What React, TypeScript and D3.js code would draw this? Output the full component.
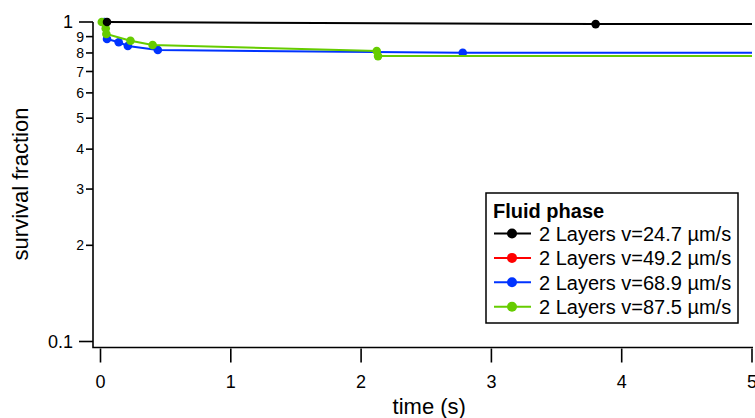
import React from "react";
import * as d3 from "d3";

const xTicks = [0, 1, 2, 3, 4, 5];
const yMajorTicks = [0.1, 1];
const yMinorTicks = [0.2, 0.3, 0.4, 0.5, 0.6, 0.7, 0.8, 0.9];
const yMinorLabels = ["2", "3", "4", "5", "6", "7", "8", "9"];
const yMajorLabels = ["0.1", "1"];

const seriesNames = [
  "2 Layers v=24.7 µm/s",
  "2 Layers v=49.2 µm/s",
  "2 Layers v=68.9 µm/s",
  "2 Layers v=87.5 µm/s",
];
const seriesColors = ["#000000", "#ff0000", "#0033ff", "#66cc00"];

// measured points (markers)
const blackT = [0.05, 3.8];
const blackV = [1.0, 0.985];
const redT: number[] = [];
const redV: number[] = [];
const blueT = [0.03, 0.05, 0.14, 0.21, 0.44, 2.78];
const blueV = [1.0, 0.885, 0.864, 0.841, 0.817, 0.801];
const greenT = [0.01, 0.04, 0.045, 0.23, 0.4, 2.12, 2.13];
const greenV = [1.0, 0.955, 0.917, 0.874, 0.847, 0.811, 0.782];

const W = 755;
const H = 418;
const FONT = "'Liberation Sans', Arial, sans-serif";

export default function App() {
  const x = d3.scaleLinear().domain([0, 5]).range([100.5, 752]);
  const y = d3.scaleLog().domain([0.1, 1]).range([341.5, 22]);
  const axisX = 93;
  const axisY = 347.5;

  const series = [
    { t: redT, v: redV, c: seriesColors[1] },
    { t: blueT, v: blueV, c: seriesColors[2] },
    { t: greenT, v: greenV, c: seriesColors[3] },
    { t: blackT, v: blackV, c: seriesColors[0] },
  ];

  const line = d3
    .line<[number, number]>()
    .x((d) => x(d[0]))
    .y((d) => y(d[1]));

  return (
    <svg width={W} height={H} style={{ position: "absolute", left: 0, top: 0 }} fontFamily={FONT}>
      <rect x={0} y={0} width={W} height={H} fill="#fff" />
      {/* data */}
      {series.map((s, i) => {
        if (s.t.length === 0) return null;
        const pts: [number, number][] = s.t.map((t, j) => [t, s.v[j]]);
        // hold last value to the end of the axis
        pts.push([5, s.v[s.v.length - 1]]);
        return (
          <g key={i}>
            <path d={line(pts) || ""} fill="none" stroke={s.c} strokeWidth={2} />
            {s.t.map((t, j) => (
              <circle key={j} cx={x(t)} cy={y(s.v[j])} r={4.3} fill={s.c} />
            ))}
          </g>
        );
      })}
      {/* axes */}
      <path
        d={`M${axisX},${y(1)} L${axisX},${axisY} L${x(5) + 1},${axisY}`}
        fill="none"
        stroke="#000"
        strokeWidth={1.6}
      />
      {yMajorTicks.map((v, i) => (
        <g key={"ym" + i}>
          <line x1={axisX - 14} x2={axisX} y1={y(v)} y2={y(v)} stroke="#000" strokeWidth={1.6} />
          <text x={axisX - 20} y={y(v)} dy="0.36em" textAnchor="end" fontSize={18}>
            {yMajorLabels[i]}
          </text>
        </g>
      ))}
      {yMinorTicks.map((v, i) => (
        <g key={"yn" + i}>
          <line x1={axisX - 7} x2={axisX} y1={y(v)} y2={y(v)} stroke="#000" strokeWidth={1.6} />
          <text x={axisX - 9} y={y(v)} dy="0.36em" textAnchor="end" fontSize={14}>
            {yMinorLabels[i]}
          </text>
        </g>
      ))}
      {xTicks.map((v) => (
        <g key={"x" + v}>
          <line x1={x(v)} x2={x(v)} y1={axisY + 1} y2={axisY + 15} stroke="#000" strokeWidth={1.6} />
          <text x={x(v)} y={382} dy="0.36em" textAnchor="middle" fontSize={18}>
            {v}
          </text>
        </g>
      ))}
      <text x={(x(0) + x(5)) / 2 + 3} y={406} dy="0.36em" textAnchor="middle" fontSize={22}>
        time (s)
      </text>
      <text
        transform={`translate(20,184) rotate(-90)`}
        textAnchor="middle"
        dy="0.36em"
        fontSize={22}
      >
        survival fraction
      </text>
      {/* legend */}
      <rect x={486} y={193} width={252} height={130} fill="#fff" stroke="#000" strokeWidth={1.5} />
      <text x={493} y={211} dy="0.36em" fontSize={20} fontWeight="bold">
        Fluid phase
      </text>
      {seriesNames.map((n, i) => {
        const cy = 233.5 + i * 24.4;
        return (
          <g key={"lg" + i}>
            <line x1={494} x2={531} y1={cy} y2={cy} stroke={seriesColors[i]} strokeWidth={2} />
            <circle cx={512} cy={cy} r={5} fill={seriesColors[i]} />
            <text x={539} y={cy} dy="0.36em" fontSize={20}>
              {n}
            </text>
          </g>
        );
      })}
    </svg>
  );
}
